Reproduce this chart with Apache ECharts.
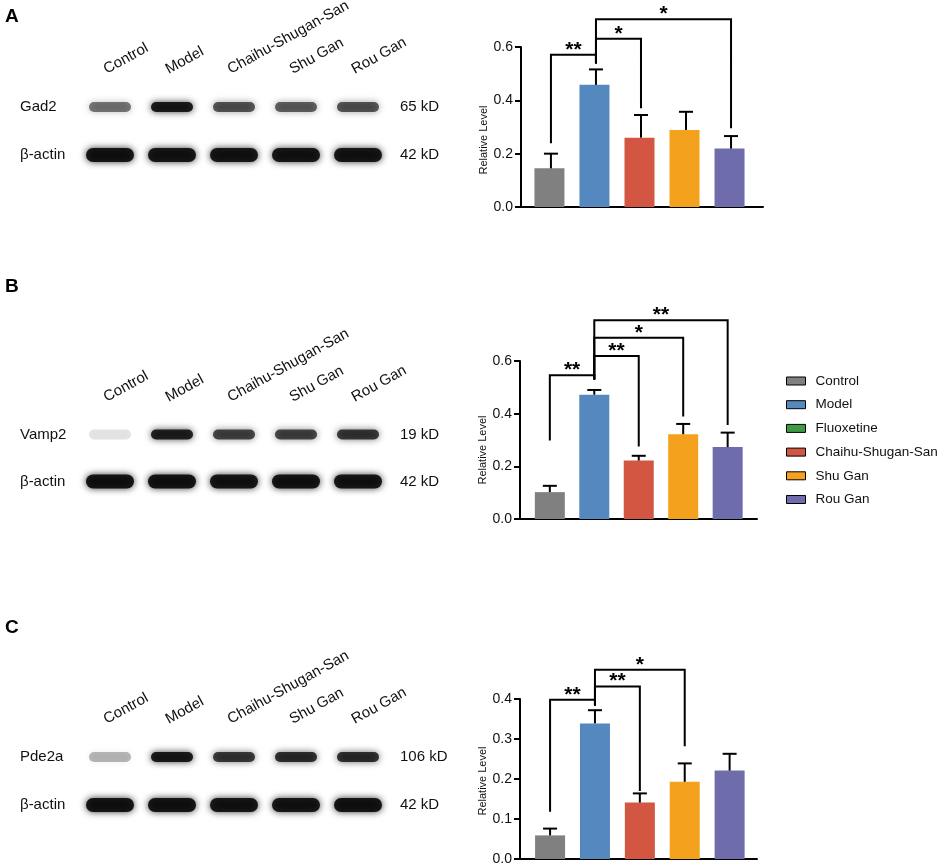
<!DOCTYPE html>
<html>
<head>
<meta charset="utf-8">
<script src="https://cdn.jsdelivr.net/npm/echarts@6/dist/echarts.min.js"></script>
<style>
html,body{margin:0;padding:0;background:#fff;}
#main{width:941px;height:865px;}
</style>
</head>
<body>
<div id="main"></div>
<script>
// ---------- data ----------
const laneNames = ['Control', 'Model', 'Chaihu-Shugan-San', 'Shu Gan', 'Rou Gan'];
const groupNames = ['Control', 'Model', 'Fluoxetine', 'Chaihu-Shugan-San', 'Shu Gan', 'Rou Gan'];
const groupColors = ['#808080', '#5488be', '#3f9a43', '#d25642', '#f4a11d', '#6f6cab'];

const panelLetters = ['A', 'B', 'C'];
const targetNames = ['Gad2', 'Vamp2', 'Pde2a'];
const targetSizes = ['65 kD', '19 kD', '106 kD'];
const actinName = 'β-actin';
const actinSize = '42 kD';

// blot band intensities (0..1) per lane
const gad2Bands = [0.55, 0.95, 0.68, 0.64, 0.68];
const gad2Actin = [0.98, 0.97, 0.97, 0.97, 0.97];
const vamp2Bands = [0.12, 0.92, 0.75, 0.75, 0.8];
const vamp2Actin = [0.98, 0.98, 0.97, 0.98, 0.97];
const pde2aBands = [0.3, 0.96, 0.8, 0.85, 0.85];
const pde2aActin = [0.98, 0.98, 0.97, 0.97, 0.98];

// relative level (mean, sem)
const gad2Mean = [0.145, 0.458, 0.260, 0.289, 0.219];
const gad2Sem = [0.055, 0.058, 0.085, 0.068, 0.047];
const vamp2Mean = [0.102, 0.472, 0.222, 0.322, 0.273];
const vamp2Sem = [0.024, 0.018, 0.018, 0.039, 0.055];
const pde2aMean = [0.059, 0.339, 0.141, 0.193, 0.221];
const pde2aSem = [0.017, 0.033, 0.023, 0.046, 0.042];

// significance brackets: [laneA, laneB, bracketLevel, dropA, dropB]
const gad2Sig = [[0, 1, 0.571, 0.239, 0.538], [1, 2, 0.631, 0.538, 0.370], [1, 4, 0.704, 0.538, 0.295]];
const gad2SigLabels = ['**', '*', '*'];
const vamp2Sig = [[0, 1, 0.546, 0.298, 0.530], [1, 2, 0.619, 0.530, 0.275], [1, 3, 0.688, 0.530, 0.389], [1, 4, 0.755, 0.530, 0.357]];
const vamp2SigLabels = ['**', '**', '*', '**'];
const pde2aSig = [[0, 1, 0.398, 0.118, 0.383], [1, 2, 0.431, 0.383, 0.170], [1, 3, 0.473, 0.383, 0.282]];
const pde2aSigLabels = ['**', '**', '*'];

// y-axis ticks
const yMaxes = [0.6, 0.6, 0.4];
const yIntervals = [0.2, 0.2, 0.1];

// ---------- layout ----------
const FONT = 'Liberation Sans, Arial, Helvetica, sans-serif';
const layout = [
  { letterTop: 7, blot: { left: 79, top: 83, width: 310, height: 96 }, bar: { left: 521, top: 47, width: 242, height: 160 }, xMin: -0.665, xMax: 4.71, namePad: 26, laneLabelGap: 6 },
  { letterTop: 277, blot: { left: 79, top: 411, width: 310, height: 94 }, bar: { left: 520, top: 361, width: 237, height: 158 }, xMin: -0.671, xMax: 4.66, namePad: 20, laneLabelGap: 6 },
  { letterTop: 618, blot: { left: 79, top: 733, width: 310, height: 96 }, bar: { left: 520, top: 699, width: 237, height: 160 }, xMin: -0.67, xMax: 4.61, namePad: 4, laneLabelGap: 6 }
];
const laneLabelShift = -1.5;
const laneLabelAngle = 29 * Math.PI / 180;

const panels = [
  { bands: gad2Bands, actin: gad2Actin, mean: gad2Mean, sem: gad2Sem, sig: gad2Sig, sigLabels: gad2SigLabels },
  { bands: vamp2Bands, actin: vamp2Actin, mean: vamp2Mean, sem: vamp2Sem, sig: vamp2Sig, sigLabels: vamp2SigLabels },
  { bands: pde2aBands, actin: pde2aActin, mean: pde2aMean, sem: pde2aSem, sig: pde2aSig, sigLabels: pde2aSigLabels }
];

const grids = [], xAxes = [], yAxes = [], series = [], blotXAxisIdx = [];
const hiddenAxis = { axisLine: { show: false }, axisTick: { show: false }, splitLine: { show: false } };

panels.forEach((p, pi) => {
  const L = layout[pi];
  // --- blot grid ---
  const gBlot = grids.length;
  grids.push(Object.assign({ outerBoundsMode: 'none', containLabel: false }, L.blot));
  const xBlot = xAxes.length;
  blotXAxisIdx.push(xBlot);
  xAxes.push(Object.assign({
    type: 'category', gridIndex: gBlot, position: 'top', data: laneNames,
    axisLabel: { show: false }
  }, hiddenAxis));
  const yBlotL = yAxes.length;
  yAxes.push(Object.assign({
    type: 'category', gridIndex: gBlot, position: 'left', inverse: true, data: [targetNames[pi], actinName],
    axisLabel: { align: 'left', margin: 59, fontSize: 15, color: '#111', fontFamily: FONT }
  }, hiddenAxis));
  yAxes.push(Object.assign({
    type: 'category', gridIndex: gBlot, position: 'right', inverse: true, data: [targetSizes[pi], actinSize],
    axisLabel: { align: 'left', margin: 11, fontSize: 15, color: '#111', fontFamily: FONT }
  }, hiddenAxis));
  const blotData = [];
  laneNames.forEach((n, k) => {
    blotData.push([k, 0, p.bands[k]]);
    blotData.push([k, 1, p.actin[k]]);
  });
  series.push({
    type: 'custom', xAxisIndex: xBlot, yAxisIndex: yBlotL, data: blotData, silent: true,
    renderItem: function (params, api) {
      const row = api.value(1), a = api.value(2);
      const c = api.coord([api.value(0), row]);
      const w = row === 0 ? 42 : 48, h = row === 0 ? 10 : 14;
      const col = 'rgba(8,8,8,' + (a * 0.92).toFixed(3) + ')';
      return {
        type: 'rect',
        shape: { x: c[0] - w / 2, y: c[1] - h / 2, width: w, height: h, r: h / 2 },
        style: { fill: col, shadowBlur: 7, shadowColor: col }
      };
    }
  });

  // --- bar grid ---
  const gBar = grids.length;
  grids.push(Object.assign({ outerBoundsMode: 'none', containLabel: false }, L.bar));
  const xBar = xAxes.length;
  xAxes.push({
    type: 'value', gridIndex: gBar, min: L.xMin, max: L.xMax,
    axisLine: { show: true, onZero: false, lineStyle: { color: '#000', width: 2 } },
    axisTick: { show: false }, axisLabel: { show: false }, splitLine: { show: false }
  });
  const yBar = yAxes.length;
  yAxes.push({
    type: 'value', gridIndex: gBar, min: 0, max: yMaxes[pi], interval: yIntervals[pi],
    name: 'Relative Level', nameLocation: 'middle', nameGap: 31,
    nameTextStyle: { fontSize: 11, color: '#111', fontFamily: FONT, padding: [0, L.namePad, 0, 0] },
    axisLine: { show: true, onZero: false, lineStyle: { color: '#000', width: 2 } },
    axisTick: { show: true, inside: false, length: 6, lineStyle: { color: '#000', width: 2 } },
    axisLabel: { fontSize: 14, color: '#111', fontFamily: FONT, margin: 8, formatter: v => v.toFixed(1) },
    splitLine: { show: false }
  });
  series.push({
    type: 'bar', name: targetNames[pi], xAxisIndex: xBar, yAxisIndex: yBar, barWidth: 30,
    data: p.mean.map((m, k) => ({
      value: [k, m],
      itemStyle: { color: groupColors[groupNames.indexOf(laneNames[k])] }
    })),
    silent: true
  });
  series.push({
    type: 'custom', xAxisIndex: xBar, yAxisIndex: yBar, silent: true, z: 3,
    data: p.mean.map((m, k) => [k, m, m + p.sem[k]]),
    renderItem: function (params, api) {
      const x = api.value(0);
      const b = api.coord([x, api.value(1)]);
      const t = api.coord([x, api.value(2)]);
      const st = { stroke: '#000', lineWidth: 2 };
      return {
        type: 'group', children: [
          { type: 'line', shape: { x1: b[0], y1: b[1], x2: t[0], y2: t[1] }, style: st },
          { type: 'line', shape: { x1: t[0] - 7, y1: t[1], x2: t[0] + 7, y2: t[1] }, style: st }
        ]
      };
    }
  });
  const labels = p.sigLabels;
  series.push({
    type: 'custom', xAxisIndex: xBar, yAxisIndex: yBar, silent: true, z: 4, clip: false,
    data: p.sig,
    renderItem: function (params, api) {
      const i = api.value(0), j = api.value(1), h = api.value(2);
      const p1 = api.coord([i, api.value(3)]), p2 = api.coord([i, h]);
      const p3 = api.coord([j, h]), p4 = api.coord([j, api.value(4)]);
      return {
        type: 'group', children: [
          { type: 'polyline', shape: { points: [p1, p2, p3, p4] }, style: { stroke: '#000', lineWidth: 2, fill: null } },
          { type: 'text', x: (p2[0] + p3[0]) / 2, y: p2[1] - 5,
            style: { text: labels[params.dataIndex], fill: '#000', fontSize: 21, fontWeight: 'bold', fontFamily: FONT, align: 'center', verticalAlign: 'middle' } }
        ]
      };
    }
  });
});

// legend proxies (one per group)
groupNames.forEach((n, gi) => {
  series.push({
    type: 'bar', name: n, xAxisIndex: 1, yAxisIndex: 2, data: [],
    itemStyle: { color: groupColors[gi], borderColor: '#000', borderWidth: 1 }
  });
});

const chart = echarts.init(document.getElementById('main'), null, { renderer: 'canvas' });
chart.setOption({
  animation: false,
  backgroundColor: '#fff',
  textStyle: { fontFamily: FONT },
  grid: grids,
  xAxis: xAxes,
  yAxis: yAxes,
  series: series,
  legend: {
    data: groupNames, left: 786, top: 374, orient: 'vertical', icon: 'rect', padding: 0,
    itemWidth: 19, itemHeight: 8, itemGap: 9.7, selectedMode: false,
    itemStyle: { borderColor: '#000', borderWidth: 1 },
    textStyle: { fontSize: 13.5, color: '#111', fontFamily: FONT, lineHeight: 14, padding: [0, 0, 0, 5] }
  },
  tooltip: { show: false }
});

// panel letters and rotated lane labels, placed from the blot axes
const graphics = [];
panels.forEach((p, pi) => {
  const L = layout[pi];
  graphics.push({
    type: 'text', left: 5, top: L.letterTop,
    style: { text: panelLetters[pi], fontSize: 19, fontWeight: 'bold', fill: '#000', fontFamily: FONT }
  });
  laneNames.forEach((name, k) => {
    const px = chart.convertToPixel({ xAxisIndex: blotXAxisIdx[pi] }, k);
    graphics.push({
      type: 'text', x: px + laneLabelShift, y: L.blot.top - L.laneLabelGap, rotation: laneLabelAngle,
      style: { text: name, fontSize: 15, fill: '#111', fontFamily: FONT, align: 'left', verticalAlign: 'bottom' }
    });
  });
});
chart.setOption({ graphic: graphics });
</script>
</body>
</html>
